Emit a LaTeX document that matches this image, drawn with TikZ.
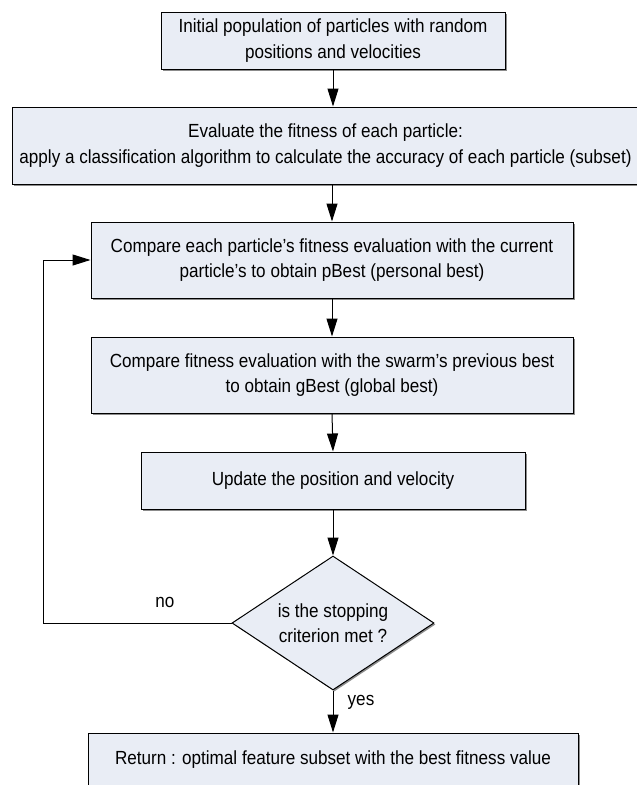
\documentclass[tikz,border=0pt]{standalone}
\usepackage{fontspec}
\setmainfont{Liberation Sans}[FakeStretch=0.9]
\usetikzlibrary{shapes.geometric,arrows.meta,shadows}
\definecolor{boxfill}{RGB}{233,237,245}
\begin{document}
\begin{tikzpicture}[x=1pt,y=-1pt,
  every node/.style={font=\fontsize{19}{25.5}\selectfont, text=black},
  box/.style={draw=black, line width=1pt, fill=boxfill, inner sep=0pt, align=center,
    drop shadow={shadow xshift=1.5pt, shadow yshift=-1.5pt, fill=black!45, opacity=1}},
  arr/.style={line width=1pt, -{Triangle[length=18pt,width=11pt]}}]
\useasboundingbox (0,0) rectangle (637,785);
\clip (0,0) rectangle (637,785);
\node[box, minimum width=344, minimum height=57] (B1) at (333,40.5)
  {Initial population of particles with random\\positions and velocities};
\node[box, minimum width=627, minimum height=77] (B2) at (325.5,145.5)
  {Evaluate the fitness of each particle:\\apply a classification algorithm to calculate the accuracy of each particle (subset)};
\node[box, minimum width=482, minimum height=76] (B3) at (332,260)
  {Compare each particle’s fitness evaluation with the current\\particle’s to obtain pBest (personal best)};
\node[box, minimum width=482, minimum height=76] (B4) at (332,375)
  {Compare fitness evaluation with the swarm’s previous best\\to obtain gBest (global best)};
\node[box, minimum width=384, minimum height=57] (B5) at (333,480.5)
  {Update the position and velocity};
\node[box, diamond, shape aspect=1.5, minimum width=202, minimum height=134] (D) at (333,623)
  {is the stopping\\criterion met ?};
\node[box, minimum width=490, minimum height=54] (B6) at (333,760)
  {Return : optimal feature subset with the best fitness value};
\draw[arr] (B1.south) -- (B1.south |- B2.north);
\draw[arr] (B3.north |- B2.south) -- (B3.north);
\draw[arr] (B3.south) -- (B4.north);
\draw[arr] (B4.south) -- (B5.north);
\draw[arr] (B5.south) -- (D.north);
\draw[arr] (D.south) -- (B6.north);
\coordinate (fb) at (43,623);
\draw[arr] (D.west) -- (fb) |- (B3.west);
\node (no) at (165,602) {no};
\node (yes) at (361,702) {yes};
\end{tikzpicture}
\end{document}
